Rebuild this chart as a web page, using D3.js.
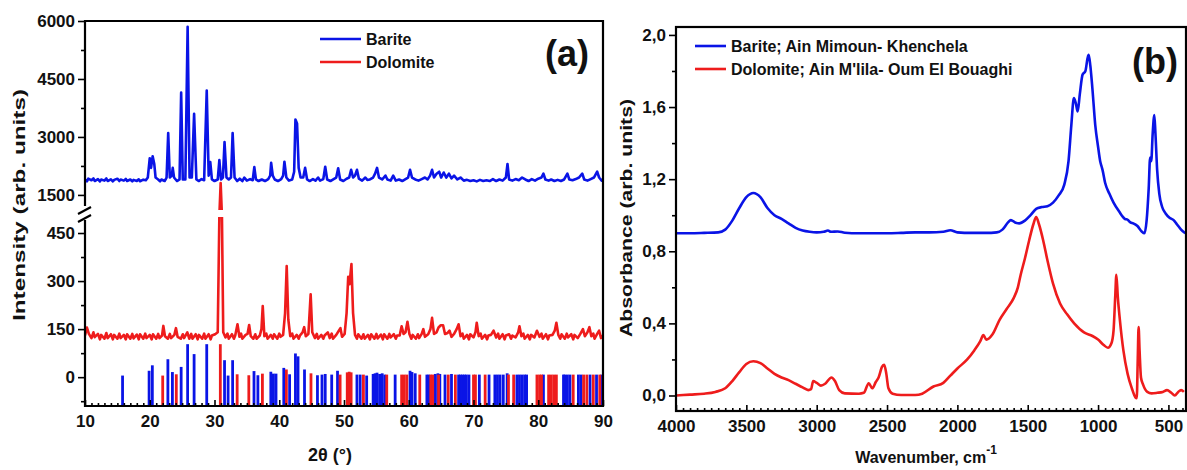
<!DOCTYPE html>
<html>
<head>
<meta charset="utf-8">
<script src="https://cdn.jsdelivr.net/npm/d3@7"></script>
<style>
  body { margin: 0; background: #fff; }
  svg text { font-family: "Liberation Sans", Arial, sans-serif; font-weight: bold; fill: #111; }
</style>
</head>
<body>
<div id="chart"></div>
<script>
// ---- data ----
// XRD, 2theta (deg) vs intensity
const bariteXrd = [[10,1900],[10.3,1850],[10.5,1920],[11,1880],[11.3,1930],[11.5,1860],[12,1910],[12.3,1850],[12.5,1900],[13,1870],[13.3,1925],[13.5,1860],[14,1905],[14.3,1850],[14.5,1890],[15,1920],[15.3,1860],[15.5,1900],[16,1870],[16.3,1915],[16.5,1860],[17,1900],[17.3,1850],[17.5,1890],[18,1860],[18.3,1905],[18.5,1855],[19,1895],[19.4,1880],
  [19.7,1950],[20.0,2450],[20.2,2200],[20.45,2500],[20.7,2300],[20.9,1950],[21.3,1900],[21.6,1850],[21.8,1900],[22.3,1860],[22.6,1950],[22.85,3100],[23.1,1950],[23.4,2000],[23.55,2200],[23.75,1950],[24.2,1860],[24.6,1900],[24.85,4150],[25.1,1900],[25.5,1900],[25.85,5850],[26.15,1950],[26.5,1950],[26.85,3600],[27.2,1900],[27.6,1860],[28.0,1910],[28.4,1880],[28.8,4200],[29.1,2000],[29.35,2350],[29.6,1900],[30.0,1860],[30.5,1900],[30.75,2400],[31.0,1900],[31.3,1950],[31.55,2870],[31.85,1950],[32.2,1900],[32.55,1950],[32.8,3100],[33.1,1950],[33.5,1860],[33.9,1920],[34.3,1860],[34.6,1950],[35.0,1870],[35.5,1910],[35.9,1880],[36.15,2220],[36.4,1900],[36.8,1860],[37.3,1900],[37.8,1860],[38.3,1910],[38.6,2000],[38.75,2330],[39.0,2000],[39.3,1900],[39.8,1860],[40.3,1910],[40.6,2000],[40.8,2360],[41.1,1950],[41.5,1870],[42.0,1900],[42.3,2100],[42.5,3450],[42.75,3350],[43.0,2200],[43.3,1950],[43.7,1950],[44.0,2200],[44.3,1900],
  [44.7,1860],[45.2,1910],[45.6,1870],[46.0,1950],[46.3,1870],[46.8,1910],[47.1,2230],[47.4,1900],[47.9,1860],[48.4,1910],[48.8,1950],[49.1,2190],[49.4,1900],[49.9,1860],[50.4,1920],[50.8,1950],[51.1,2150],[51.4,1950],[51.7,2000],[52.0,2150],[52.3,1920],[52.8,1870],[53.3,1950],[53.6,1890],[54.0,1900],[54.5,1950],[54.8,2050],[55.1,2200],[55.4,1950],[55.9,1900],[56.4,2000],[56.7,1900],[57.2,1870],[57.6,2000],[58.0,1870],[58.5,1900],[59.0,1860],[59.5,1910],[59.9,1950],[60.2,2150],[60.5,1950],[61.0,1900],[61.5,1870],[62.0,1910],[62.5,1950],[62.9,1900],[63.3,2000],[63.6,2150],[63.9,1950],[64.3,2050],[64.7,2100],[65.0,1950],[65.4,2080],[65.8,1950],[66.2,2050],[66.6,1930],[67.0,2000],[67.5,1900],[68.0,1950],[68.5,1870],[69.0,1890],[69.5,1860],[70.0,1880],[70.5,1850],[71.0,1890],[71.5,1860],[72.0,1880],[72.5,1860],[73.0,1910],[73.5,1860],[74.0,1900],[74.5,1870],[75.0,1950],[75.25,2300],[75.5,1900],[76.0,1870],[76.5,1910],[77.0,1880],[77.5,1950],[78.0,1900],[78.5,1860],[79.0,1910],[79.5,1870],[80.0,1920],[80.5,1950],[80.8,2050],[81.1,1900],[81.6,1870],[82.0,1900],[82.5,1860],[83.0,1890],[83.5,1860],[84.0,1900],[84.5,2050],[84.8,1900],[85.3,1880],[85.8,1910],[86.3,1950],[86.8,2050],[87.1,1900],[87.6,1870],[88.1,1910],[88.6,1950],[89.1,2100],[89.4,1950],[89.8,1870],[90,1900]];

const dolomiteXrd = [[10,130],[10.3,155],[10.6,135],[11,122],[11.3,140],[11.5,125],[12,135],[12.3,118],[12.5,132],[13,120],[13.3,138],[13.5,122],[14,134],[14.3,118],[14.5,132],[15,120],[15.3,136],[15.5,122],[16,132],[16.3,118],[16.5,134],[17,120],[17.3,135],[17.5,121],[18,133],[18.3,118],[18.5,134],[19,120],[19.3,136],[19.5,122],[20,132],[20.3,118],[20.5,134],[21,120],[21.3,135],[21.5,122],[21.9,130],[22.1,160],[22.35,128],[22.8,120],[23.1,135],[23.3,122],[23.8,132],[24.05,153],[24.3,126],[24.8,120],[25.1,134],[25.3,122],[25.8,140],[26.1,120],[26.4,135],[26.6,120],[27.1,134],[27.4,118],[27.6,132],[28.1,120],[28.4,136],[28.6,120],[29.1,134],[29.4,118],[29.6,130],[30.1,134],[30.5,140],[30.75,600],[30.95,1810],[31.15,600],[31.35,140],[31.7,124],[32.0,136],[32.2,120],[32.7,134],[33.0,120],[33.2,130],[33.55,165],[33.85,126],[34.1,136],[34.3,120],[34.8,132],[35.1,135],[35.35,163],[35.6,128],[36.0,120],[36.3,134],[36.5,120],[37.0,130],[37.25,150],[37.45,222],[37.7,128],[38.0,136],[38.2,120],[38.7,132],[39.0,120],[39.2,134],[39.7,120],[40.0,136],[40.2,126],[40.6,132],[40.9,200],[41.15,347],[41.4,180],[41.7,128],[42.0,136],[42.2,120],[42.7,132],[43.0,120],[43.2,130],[43.6,140],[43.85,156],[44.1,128],[44.5,135],[44.85,259],[45.1,140],[45.5,122],[45.8,135],[46.0,120],[46.5,132],[46.8,120],[47.0,130],[47.5,140],[47.8,122],[48.1,136],[48.3,120],[48.8,132],[49.2,145],[49.45,153],[49.7,126],[50.1,135],[50.4,200],[50.65,313],[50.85,290],[51.15,353],[51.4,200],[51.7,132],[52.0,120],[52.2,134],[52.7,120],[53.0,134],[53.2,120],[53.7,132],[54.0,118],[54.2,134],[54.7,120],[55.0,135],[55.2,121],[55.7,133],[56.0,118],[56.2,134],[56.7,120],[57.0,135],[57.2,124],[57.7,134],[58.0,120],[58.2,130],[58.6,130],[58.9,159],[59.2,135],[59.5,140],[59.8,173],[60.1,135],[60.4,120],[60.6,132],[61.1,120],[61.4,134],[61.6,122],[62.0,135],[62.25,150],[62.5,126],[63.0,134],[63.35,150],[63.6,185],[63.9,135],[64.3,140],[64.6,155],[64.95,162],[65.3,162],[65.6,135],[66.0,138],[66.3,145],[66.6,126],[67.0,135],[67.4,150],[67.7,165],[68.0,128],[68.3,136],[68.5,120],[69.0,132],[69.3,118],[69.5,134],[70.0,124],[70.3,140],[70.5,170],[70.8,128],[71.1,136],[71.3,120],[71.8,132],[72.1,118],[72.3,130],[72.7,132],[73.1,145],[73.5,124],[73.8,136],[74.0,120],[74.5,134],[74.8,118],[75.0,130],[75.5,134],[75.8,120],[76.0,130],[76.5,124],[76.9,140],[77.1,159],[77.4,128],[77.7,136],[77.9,120],[78.4,132],[78.7,118],[78.9,132],[79.4,124],[79.8,145],[80.2,126],[80.5,136],[80.7,120],[81.2,134],[81.5,118],[81.7,130],[82.2,132],[82.55,145],[82.8,170],[83.1,132],[83.4,120],[83.6,134],[84.1,120],[84.4,136],[84.6,124],[85.1,134],[85.4,118],[85.6,132],[86.1,122],[86.5,135],[86.9,150],[87.2,128],[87.6,140],[87.9,156],[88.2,128],[88.5,136],[88.7,120],[89.1,135],[89.4,145],[89.7,122],[90,130]];

// reference stick patterns: [2theta, top of stick]
const bariteSticks = [[15.8,5],[19.9,20],[20.4,37],[22.8,56],[23.5,16],[24.85,32],[25.85,103],[26.85,72],[28.8,103],[31.55,53],[32.1,5],[32.8,53],[36.1,19],[36.7,6],[38.7,17],[39.1,11],[39.5,11],[40.7,29],[41.6,9],[42.5,74],[42.9,65],[43.9,24],[45.9,6],[46.6,8],[47.1,10],[48.1,8],[49.0,20],[52.0,8],[52.5,8],[53.5,5],[54.5,10],[54.8,12],[55.1,14],[55.5,10],[55.9,12],[56.3,8],[57.9,8],[60.2,20],[60.5,16],[61.0,12],[62.8,8],[63.1,8],[64.1,10],[64.5,12],[64.8,10],[65.6,8],[66.6,10],[67.7,8],[68.0,8],[68.3,8],[68.6,8],[68.9,8],[69.3,8],[70.9,8],[72.4,8],[73.3,8],[73.7,8],[74.1,8],[74.6,8],[75.2,12],[76.7,8],[77.1,8],[77.5,8],[77.9,8],[78.2,8],[80.8,8],[83.9,8],[84.1,8],[84.5,8],[84.9,8],[86.2,8],[86.6,8],[88.0,8],[89.0,8],[89.8,8]];
const dolomiteSticks = [[22.0,5],[24.1,9],[30.9,103],[33.5,9],[35.3,6],[37.4,11],[41.1,24],[44.9,12],[49.4,8],[50.5,15],[50.8,17],[51.1,15],[53.0,8],[56.6,8],[58.9,8],[59.3,8],[59.7,8],[61.7,8],[63.4,8],[63.7,8],[64.6,8],[66.1,8],[67.2,8],[70.0,8],[70.3,8],[71.8,8],[75.4,8],[76.2,8],[79.8,8],[80.2,8],[80.5,8],[81.6,8],[82.0,8],[82.4,8],[82.8,8],[85.4,8],[87.0,8],[87.5,8],[88.5,8],[89.5,8]];

// FTIR, wavenumber (cm-1) vs absorbance
const bariteFtir = [[4000,0.90],[3900,0.90],[3800,0.902],[3700,0.905],[3650,0.92],[3600,0.97],[3550,1.04],[3500,1.10],[3450,1.123],[3400,1.10],[3350,1.04],[3300,1.0],[3250,0.98],[3200,0.955],[3150,0.93],[3100,0.915],[3050,0.908],[3000,0.905],[2950,0.908],[2920,0.915],[2900,0.908],[2850,0.91],[2800,0.903],[2700,0.90],[2600,0.90],[2500,0.90],[2400,0.902],[2300,0.905],[2200,0.905],[2100,0.908],[2050,0.917],[2000,0.905],[1900,0.902],[1800,0.902],[1720,0.905],[1680,0.92],[1640,0.96],[1620,0.973],[1590,0.96],[1560,0.955],[1520,0.97],[1480,1.0],[1440,1.035],[1400,1.045],[1360,1.05],[1320,1.07],[1280,1.11],[1240,1.17],[1210,1.3],[1190,1.5],[1172,1.65],[1158,1.62],[1145,1.575],[1130,1.67],[1110,1.78],[1090,1.80],[1075,1.87],[1067,1.89],[1055,1.83],[1040,1.7],[1020,1.5],[1000,1.38],[985,1.3],[975,1.27],[968,1.25],[950,1.18],[920,1.12],[890,1.07],[850,1.02],[810,0.98],[790,0.975],[770,0.96],[750,0.955],[720,0.94],[690,0.91],[670,0.90],[655,0.97],[640,1.15],[630,1.32],[622,1.30],[612,1.45],[600,1.556],[592,1.45],[580,1.25],[565,1.12],[545,1.047],[520,1.01],[490,0.985],[463,0.973],[440,0.95],[410,0.92],[380,0.90]];
const dolomiteFtir = [[4000,0.0],[3900,0.005],[3800,0.01],[3720,0.02],[3650,0.04],[3600,0.08],[3550,0.13],[3500,0.175],[3450,0.19],[3400,0.18],[3350,0.15],[3300,0.12],[3250,0.10],[3200,0.085],[3150,0.065],[3100,0.045],[3060,0.03],[3040,0.035],[3025,0.08],[3000,0.07],[2970,0.055],[2940,0.065],[2895,0.10],[2870,0.08],[2840,0.03],[2800,0.012],[2700,0.01],[2665,0.015],[2630,0.068],[2605,0.04],[2580,0.075],[2560,0.10],[2535,0.16],[2520,0.17],[2505,0.12],[2490,0.04],[2460,0.01],[2400,0.003],[2300,0.003],[2250,0.01],[2170,0.05],[2100,0.07],[2050,0.11],[2000,0.15],[1930,0.2],[1880,0.25],[1838,0.3],[1815,0.335],[1795,0.31],[1750,0.34],[1700,0.42],[1650,0.48],[1600,0.54],[1570,0.60],[1550,0.67],[1520,0.76],[1490,0.86],[1460,0.95],[1440,0.99],[1420,0.95],[1390,0.86],[1360,0.75],[1320,0.62],[1270,0.51],[1220,0.45],[1170,0.40],[1100,0.35],[1040,0.33],[1000,0.31],[960,0.28],[930,0.265],[905,0.29],[890,0.36],[878,0.55],[870,0.67],[860,0.55],[845,0.42],[820,0.25],[790,0.12],[760,0.04],[735,-0.01],[725,-0.015],[718,0.20],[712,0.38],[705,0.25],[695,0.10],[680,0.06],[650,0.02],[620,0.012],[580,0.015],[540,0.02],[510,0.03],[480,0.015],[455,0.0],[430,0.02],[410,0.03],[390,0.02]];

// tick labels
const xTicksA = [10, 20, 30, 40, 50, 60, 70, 80, 90];
const yTicksA = [0, 150, 300, 450, 1500, 3000, 4500, 6000];
const yMinorA = [-75, 75, 225, 375, 2250, 3750, 5250];
const xTicksB = [4000, 3500, 3000, 2500, 2000, 1500, 1000, 500];
const yTicksB = [0, 0.4, 0.8, 1.2, 1.6, 2.0];

const BLUE = "#0a14e6", RED = "#ee1c1c";

const W = 1187, H = 470;
const svg = d3.select("#chart").append("svg")
  .attr("width", W).attr("height", H);

// ================= panel (a) =================
const A = {left: 85, right: 603, top: 21, bottom: 406, gapTop: 210, gapBot: 217};

const xA = d3.scaleLinear().domain([10, 90]).range([A.left, A.right]);
// broken y axis: lower part -90..500, upper part 1110..6000
const yA = d3.scaleLinear()
  .domain([-90, 500, 1110, 6000])
  .range([A.bottom, A.gapBot, A.gapTop, A.top]);

svg.append("clipPath").attr("id", "clipA")
  .append("rect").attr("x", A.left).attr("y", A.top)
  .attr("width", A.right - A.left).attr("height", A.bottom - A.top);

const gA = svg.append("g").attr("clip-path", "url(#clipA)");

// stick patterns
gA.selectAll(".bstick").data(bariteSticks).join("line")
  .attr("x1", d => xA(d[0])).attr("x2", d => xA(d[0]))
  .attr("y1", yA(-90)).attr("y2", d => yA(d[1]))
  .attr("stroke", BLUE).attr("stroke-width", 2.8);
gA.selectAll(".dstick").data(dolomiteSticks).join("line")
  .attr("x1", d => xA(d[0])).attr("x2", d => xA(d[0]))
  .attr("y1", yA(-90)).attr("y2", d => yA(d[1]))
  .attr("stroke", RED).attr("stroke-width", 2.8);

const lineA = d3.line().x(d => xA(d[0])).y(d => yA(d[1]));
gA.append("path").datum(bariteXrd)
  .attr("d", lineA).attr("fill", "none")
  .attr("stroke", BLUE).attr("stroke-width", 2.6).attr("stroke-linejoin", "round");
gA.append("path").datum(dolomiteXrd)
  .attr("d", lineA).attr("fill", "none")
  .attr("stroke", RED).attr("stroke-width", 2.6).attr("stroke-linejoin", "round");

// white gap of the axis break
gA.append("rect")
  .attr("x", A.left).attr("y", A.gapTop)
  .attr("width", A.right - A.left).attr("height", A.gapBot - A.gapTop)
  .attr("fill", "#fff");

// x axis (ticks pointing in)
svg.append("g")
  .attr("transform", `translate(0,${A.bottom})`)
  .call(d3.axisBottom(xA).tickValues(xTicksA).tickSize(-6).tickPadding(9).tickFormat(d3.format("d")));
svg.append("g")
  .attr("transform", `translate(0,${A.bottom})`)
  .call(d3.axisBottom(xA).tickValues(d3.range(11, 90, 1).filter(v => v % 10)).tickSize(-3).tickFormat(""));

// y axis
svg.append("g")
  .attr("transform", `translate(${A.left},0)`)
  .call(d3.axisLeft(yA).tickValues(yTicksA).tickSize(7).tickPadding(3).tickFormat(d3.format("d")));
svg.append("g")
  .attr("transform", `translate(${A.left},0)`)
  .call(d3.axisLeft(yA).tickValues(yMinorA).tickSize(4).tickFormat(""));

svg.selectAll(".domain").remove();

// frame for (a), left side split by the break
const frameA = svg.append("g").attr("stroke", "#000").attr("stroke-width", 2.2).attr("fill", "none");
frameA.append("path").attr("d",
  `M${A.left},${A.gapTop - 4}V${A.top}H${A.right}V${A.bottom}H${A.left}V${A.gapBot + 3}`);
frameA.append("line").attr("x1", A.left - 7).attr("y1", A.gapTop + 4).attr("x2", A.left + 6).attr("y2", A.gapTop - 3);
frameA.append("line").attr("x1", A.left - 7).attr("y1", A.gapBot + 5).attr("x2", A.left + 6).attr("y2", A.gapBot - 2);

// legend (a)
const legA = [["Barite", BLUE], ["Dolomite", RED]];
legA.forEach((d, i) => {
  const y = 39 + i * 23;
  svg.append("line").attr("x1", 320).attr("x2", 361).attr("y1", y).attr("y2", y)
    .attr("stroke", d[1]).attr("stroke-width", 2.6);
  svg.append("text").attr("x", 366).attr("y", y).attr("dy", "0.36em")
    .style("font-size", "16px").text(d[0]);
});

svg.append("text").attr("x", 589).attr("y", 66).attr("text-anchor", "end")
  .style("font-size", "36px").text("(a)");

svg.append("text").attr("x", 330).attr("y", 461).attr("text-anchor", "middle")
  .style("font-size", "18px").text("2θ (°)");
svg.append("text").attr("transform", "translate(25,205) rotate(-90)")
  .attr("text-anchor", "middle").style("font-size", "17px")
  .attr("textLength", 232).attr("lengthAdjust", "spacingAndGlyphs")
  .text("Intensity (arb. units)");

// ================= panel (b) =================
const B = {left: 676, right: 1186, top: 27, bottom: 411};
const xB = d3.scaleLinear().domain([4000, 375]).range([B.left, B.right]);
const yB = d3.scaleLinear().domain([-0.086, 2.044]).range([B.bottom, B.top]);

svg.append("clipPath").attr("id", "clipB")
  .append("rect").attr("x", B.left).attr("y", B.top)
  .attr("width", B.right - B.left).attr("height", B.bottom - B.top);
const gB = svg.append("g").attr("clip-path", "url(#clipB)");

const lineB = d3.line().x(d => xB(d[0])).y(d => yB(d[1])).curve(d3.curveMonotoneX);
gB.append("path").datum(bariteFtir)
  .attr("d", lineB).attr("fill", "none").attr("stroke", BLUE).attr("stroke-width", 2.6);
gB.append("path").datum(dolomiteFtir)
  .attr("d", lineB).attr("fill", "none").attr("stroke", RED).attr("stroke-width", 2.6);

svg.append("g")
  .attr("transform", `translate(0,${B.bottom})`)
  .call(d3.axisBottom(xB).tickValues(xTicksB).tickSize(-6).tickPadding(9).tickFormat(d3.format("d")));
svg.append("g")
  .attr("transform", `translate(0,${B.bottom})`)
  .call(d3.axisBottom(xB).tickValues(d3.range(3950, 375, -50).filter(v => v % 500)).tickSize(-3).tickFormat(""));

const commaFmt = d => d3.format(".1f")(d).replace(".", ",");
svg.append("g")
  .attr("transform", `translate(${B.left},0)`)
  .call(d3.axisLeft(yB).tickValues(yTicksB).tickSize(7).tickPadding(3).tickFormat(commaFmt));
svg.append("g")
  .attr("transform", `translate(${B.left},0)`)
  .call(d3.axisLeft(yB).tickValues([0.2, 0.6, 1.0, 1.4, 1.8]).tickSize(4).tickFormat(""));
svg.selectAll(".domain").remove();

svg.append("rect").attr("x", B.left).attr("y", B.top)
  .attr("width", B.right - B.left).attr("height", B.bottom - B.top)
  .attr("fill", "none").attr("stroke", "#000").attr("stroke-width", 2.2);

// legend (b)
const legB = [["Barite; Ain Mimoun- Khenchela", BLUE], ["Dolomite; Ain M'lila- Oum El Bouaghi", RED]];
legB.forEach((d, i) => {
  const y = 46 + i * 23;
  svg.append("line").attr("x1", 695).attr("x2", 726).attr("y1", y).attr("y2", y)
    .attr("stroke", d[1]).attr("stroke-width", 2.6);
  svg.append("text").attr("x", 731).attr("y", y).attr("dy", "0.36em")
    .style("font-size", "16px").text(d[0]);
});

svg.append("text").attr("x", 1178).attr("y", 74).attr("text-anchor", "end")
  .style("font-size", "36px").text("(b)");

const xl = svg.append("text").attr("x", 926).attr("y", 463).attr("text-anchor", "middle")
  .style("font-size", "16px");
xl.append("tspan").text("Wavenumber, cm");
xl.append("tspan").attr("dy", "-9").style("font-size", "12px").text("-1");

svg.append("text").attr("transform", "translate(632,218) rotate(-90)")
  .attr("text-anchor", "middle").style("font-size", "17px")
  .attr("textLength", 238).attr("lengthAdjust", "spacingAndGlyphs")
  .text("Absorbance (arb. units)");

// tick styling
svg.selectAll(".tick line").attr("stroke", "#000").attr("stroke-width", 1.6);
svg.selectAll(".tick text").style("font-size", "17px").attr("fill", "#111");
</script>
</body>
</html>
